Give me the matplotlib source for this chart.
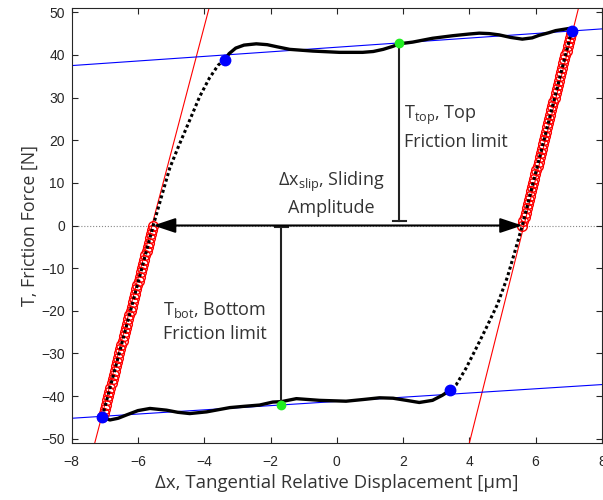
import matplotlib
matplotlib.use('Agg')
import matplotlib.pyplot as plt
from matplotlib.patches import FancyArrowPatch

# --- data ---
# top branch of the loop (solid), left to right
top_x = [-3.38, -3.25, -3.05, -2.80, -2.43, -2.10, -1.80, -1.42, -0.72, 0.08, 0.78, 1.10,
         1.40, 1.69, 1.89, 2.29, 2.89, 3.50, 4.00, 4.30, 4.60, 4.90, 5.25, 5.60, 5.90,
         6.11, 6.40, 6.61, 6.85, 7.01, 7.09]
top_T = [38.9, 40.3, 41.6, 42.3, 42.6, 42.4, 41.9, 41.3, 40.9, 40.6, 40.6, 40.8,
         41.3, 42.0, 42.6, 43.0, 43.9, 44.5, 44.9, 45.1, 45.0, 44.7, 44.1, 43.7, 44.0,
         44.6, 45.2, 45.7, 46.0, 46.2, 45.7]
# bottom branch of the loop (solid), right to left
bot_x = [3.42, 3.19, 2.89, 2.49, 2.10, 1.70, 1.29, 0.80, 0.28, -0.52, -1.22, -1.67,
         -1.93, -2.33, -2.80, -3.23, -3.93, -4.44, -4.80, -5.14, -5.64, -6.00, -6.34,
         -6.60, -6.85, -7.08]
bot_T = [-38.6, -39.8, -41.0, -41.5, -41.0, -40.5, -40.4, -40.8, -41.2, -41.0, -40.6, -41.3,
         -41.4, -42.1, -42.4, -42.7, -43.7, -44.1, -43.8, -43.3, -42.9, -43.4, -44.4,
         -45.2, -45.6, -44.9]
# steep (stick) parts of the loop, dotted
right_x = [7.09, 5.60, 5.38, 5.15, 4.85, 4.50, 4.20, 3.90, 3.60, 3.42]
right_T = [45.7, 0.0, -6.0, -12.1, -18.5, -24.2, -28.9, -33.5, -37.4, -38.6]
left_x = [-7.08, -5.54, -5.32, -5.04, -4.78, -4.45, -4.14, -3.85, -3.58, -3.38]
left_T = [-44.9, 0.0, 6.0, 13.5, 18.5, 24.5, 30.2, 34.5, 37.6, 38.9]

# points used for the stiffness fit (red circles)
fitL_T = [0, -1, -2, -3, -4, -5, -6, -7, -8, -9, -10, -11, -12, -13, -14, -15, -16, -17,
          -18, -19, -20, -21, -22, -23, -24, -25, -26, -27, -28, -29, -30, -31, -32, -33,
          -34, -35, -36, -37, -38, -39, -40, -41, -42, -43, -44, -45]
fitL_x = [-5.54, -5.57, -5.61, -5.64, -5.68, -5.71, -5.74, -5.78, -5.81, -5.85, -5.88,
          -5.92, -5.95, -5.98, -6.02, -6.05, -6.09, -6.12, -6.15, -6.19, -6.22, -6.26,
          -6.29, -6.32, -6.36, -6.39, -6.43, -6.46, -6.50, -6.53, -6.56, -6.60, -6.63,
          -6.67, -6.70, -6.73, -6.77, -6.80, -6.84, -6.87, -6.91, -6.94, -6.97, -7.01,
          -7.04, -7.08]
fitR_T = [0, 1, 2, 3, 4, 5, 6, 7, 8, 9, 10, 11, 12, 13, 14, 15, 16, 17, 18, 19, 20, 21,
          22, 23, 24, 25, 26, 27, 28, 29, 30, 31, 32, 33, 34, 35, 36, 37, 38, 39, 40, 41,
          42, 43, 44, 45]
fitR_x = [5.60, 5.63, 5.67, 5.70, 5.73, 5.76, 5.80, 5.83, 5.86, 5.89, 5.93, 5.96, 5.99,
          6.02, 6.06, 6.09, 6.12, 6.15, 6.19, 6.22, 6.25, 6.28, 6.32, 6.35, 6.38, 6.41,
          6.45, 6.48, 6.51, 6.54, 6.58, 6.61, 6.64, 6.67, 6.71, 6.74, 6.77, 6.81, 6.84,
          6.87, 6.90, 6.94, 6.97, 7.00, 7.03, 7.07]

# fitted lines (end points)
stiffL_x = [-7.34, -3.82]
stiffR_x = [3.97, 7.33]
stiff_T = [-52, 52]
limit_x = [-8, 8]
limitTop_T = [37.5, 46.1]
limitBot_T = [-45.2, -37.3]

# marked points
corner_x = [-3.38, 7.09, -7.08, 3.42]
corner_T = [38.9, 45.7, -44.9, -38.6]
mid_x = [1.89, -1.67]
mid_T = [42.7, -42.0]
slip_x = [-5.54, 5.60]

plt.rcParams['mathtext.default'] = 'regular'
txtfont = ['Open Sans', 'DejaVu Sans']
txtcol = '#333333'

fig = plt.figure(figsize=(6.03, 5.0), dpi=100)
ax = fig.add_axes([0.119, 0.114, 0.879, 0.87])

ax.axhline(0, color='#888888', lw=0.8, ls=':', zorder=1)
ax.plot(stiffL_x, stiff_T, color='red', lw=0.8, zorder=2)
ax.plot(stiffR_x, stiff_T, color='red', lw=0.8, zorder=2)
ax.plot(limit_x, limitTop_T, color='blue', lw=0.8, zorder=2)
ax.plot(limit_x, limitBot_T, color='blue', lw=0.8, zorder=2)

ax.plot(fitL_x, fitL_T, 'o', mfc='none', mec='red', ms=7, mew=1.0, zorder=3)
ax.plot(fitR_x, fitR_T, 'o', mfc='none', mec='red', ms=7, mew=1.0, zorder=3)

ax.plot(top_x, top_T, color='black', lw=2.4, zorder=4)
ax.plot(bot_x, bot_T, color='black', lw=2.4, zorder=4)
ax.plot(right_x, right_T, color='black', lw=2.2, ls=(0, (1, 0.9)), dash_capstyle='butt', zorder=4)
ax.plot(left_x, left_T, color='black', lw=2.2, ls=(0, (1, 0.9)), dash_capstyle='butt', zorder=4)

# measurement markers
ax.plot([mid_x[0], mid_x[0]], [mid_T[0], 1.1], color='#222222', lw=1.5, zorder=5)
ax.plot([mid_x[0] - 0.19, mid_x[0] + 0.19], [1.1, 1.1], color='#222222', lw=1.5, zorder=5)
ax.plot([mid_x[1], mid_x[1]], [mid_T[1], -0.3], color='#222222', lw=1.5, zorder=5)
ax.plot([mid_x[1] - 0.19, mid_x[1] + 0.19], [-0.3, -0.3], color='#222222', lw=1.5, zorder=5)
arr = FancyArrowPatch((slip_x[0], 0), (slip_x[1], 0),
                      arrowstyle='<|-|>,head_length=0.9,head_width=0.3',
                      mutation_scale=15, color='black', lw=1.5, zorder=5,
                      shrinkA=0, shrinkB=0)
ax.add_patch(arr)

ax.plot(corner_x, corner_T, 'o', color='blue', ms=7.5, zorder=6)
ax.plot(mid_x, mid_T, 'o', color='#22ee22', ms=6, zorder=6)

ax.text(-0.16, 7.5, 'Δx$_{slip}$, Sliding\nAmplitude', ha='center', va='center',
        multialignment='center', fontsize=13, family=txtfont, color=txtcol, linespacing=1.4)
ax.text(2.04, 23.0, 'T$_{top}$, Top\nFriction limit', ha='left', va='center',
        fontsize=13, family=txtfont, color=txtcol, linespacing=1.4)
ax.text(-5.24, -22.5, 'T$_{bot}$, Bottom\nFriction limit', ha='left', va='center',
        fontsize=13, family=txtfont, color=txtcol, linespacing=1.4)

ax.set_xlim(-8, 8)
ax.set_ylim(-51, 51)
ax.set_xticks(range(-8, 9, 2))
ax.set_yticks(range(-50, 51, 10))
ax.tick_params(direction='in', top=True, right=True, length=4, width=0.8,
               colors='#262626', labelsize=10)
ax.tick_params(axis='x', pad=9)
ax.tick_params(axis='y', pad=5)
for lab in ax.get_xticklabels() + ax.get_yticklabels():
    lab.set_family('Liberation Sans')
for sp in ax.spines.values():
    sp.set_color('#262626')
    sp.set_linewidth(0.8)

ax.set_xlabel('Δx, Tangential Relative Displacement [µm]', fontsize=13.4,
              family=txtfont, color=txtcol, labelpad=3)
ax.set_ylabel('T, Friction Force [N]', fontsize=12.8, family=txtfont, color=txtcol,
              labelpad=2)

fig.savefig('out.png', dpi=100)
